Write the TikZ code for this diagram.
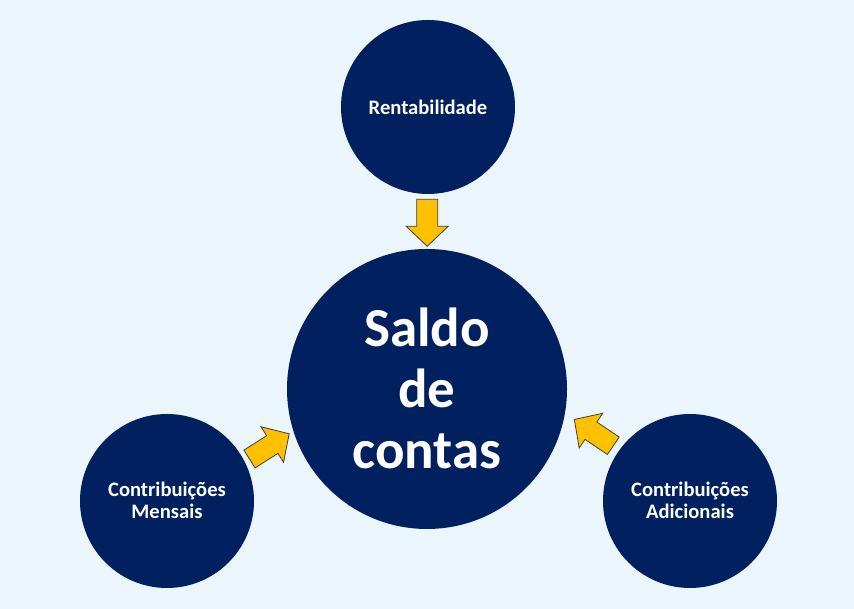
\documentclass[tikz,border=0pt]{standalone}
\usepackage{fontspec}
\setmainfont{Carlito}
\begin{document}
\begin{tikzpicture}[x=1pt,y=1pt,
  bubble/.style={circle,fill=navy,draw=none,inner sep=0pt,text=white,align=center,font=\bfseries},
  smalltxt/.style={font=\fontsize{20.6}{22}\selectfont\bfseries},
  bigtxt/.style={font=\fontsize{55}{61}\selectfont\bfseries},
  blockarrow/.pic={\draw[fill=arrowyellow,draw=arrowedge,line width=0.8pt,line join=miter]
     (0,-10.5) -- (27,-10.5) -- (27,-21) -- (47,0) -- (27,21) -- (27,10.5) -- (0,10.5) -- cycle;}
]
\definecolor{navy}{HTML}{002060}
\definecolor{bgblue}{HTML}{EBF6FC}
\definecolor{arrowyellow}{HTML}{FFC000}
\definecolor{arrowedge}{HTML}{404040}
\fill[bgblue] (0,0) rectangle (854,609);
\useasboundingbox (0,0) rectangle (854,609);
\node[bubble,minimum size=280pt] (saldo) at (427,220) {};
\node[bubble,minimum size=174pt] (rent) at (428,502) {};
\node[bubble,minimum size=174pt] (mens) at (167,108) {};
\node[bubble,minimum size=174pt] (adic) at (690,108) {};
\node[text=white,align=center,bigtxt] (saldotxt) at (427,221) {Saldo\\de\\contas};
\node[text=white,align=center,smalltxt] (renttxt) at (428,501.5) {Rentabilidade};
\node[text=white,align=center,smalltxt] (menstxt) at (167,108.5) {Contribuições\\Mensais};
\node[text=white,align=center,smalltxt] (adictxt) at (690,108.5) {Contribuições\\Adicionais};
\pic[rotate=-90] at (427.2,409.7) {blockarrow};
\pic[rotate=32.4] at (249.5,150) {blockarrow};
\pic[rotate=145.9] at (613.3,163.2) {blockarrow};
\end{tikzpicture}
\end{document}
